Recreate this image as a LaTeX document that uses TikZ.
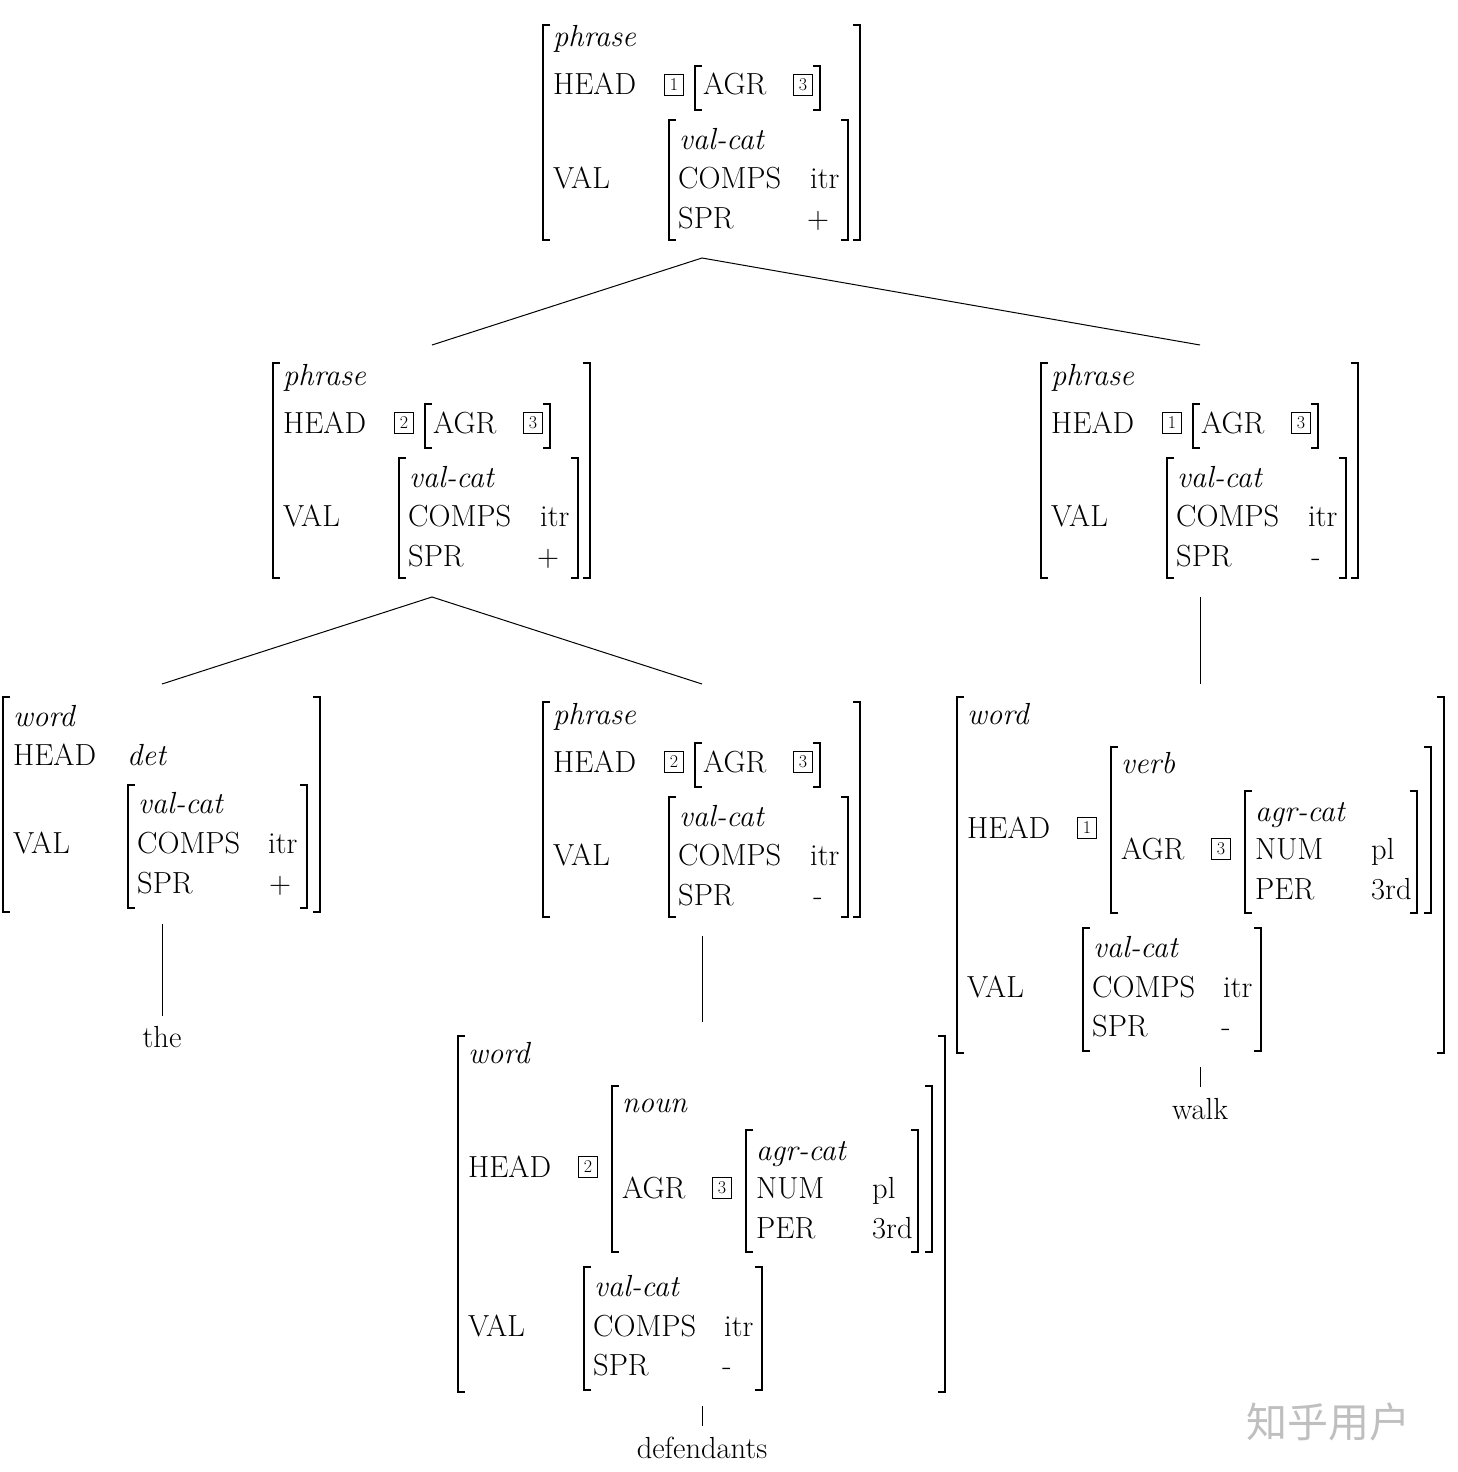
\documentclass[tikz,border=0pt]{standalone}
\usepackage{fontspec}
\newfontfamily\cjk{Noto Sans CJK SC}
\tikzset{
 t/.style={anchor=base west,inner sep=0pt,font=\fontsize{30.5}{34}\selectfont},
 tc/.style={anchor=base,inner sep=0pt,font=\fontsize{30.5}{34}\selectfont},
 tag/.style={draw,line width=0.7pt,inner sep=1.5pt,minimum width=19pt,minimum height=21pt,font=\fontsize{18}{20}\selectfont},
 brk/.style={line width=1.5pt},
 edge/.style={line width=1pt}
}
\newcommand\LBk[3]{\draw[brk] (#1+7,#2)--(#1,#2)--(#1,#3)--(#1+7,#3);}
\newcommand\RBk[3]{\draw[brk] (#1-7,#2)--(#1,#2)--(#1,#3)--(#1-7,#3);}
\newcommand\phr[4]{%
\begin{scope}[shift={(#1,#2)}]
\LBk{543}{25}{240}\RBk{860}{25}{240}
\node[t] at (553,47){\textit{phrase}};
\node[t] at (553,95){HEAD}; \node[tag] at (674,85){#3};
\LBk{695}{66}{110}\node[t] at (703,95){AGR};\node[tag] at (803,85){3};\RBk{820}{66}{110}
\node[t] at (553,188){VAL};
\LBk{669}{120}{240}\RBk{848}{120}{240}
\node[t] at (679,149){\textit{val-cat}};
\node[t] at (678,188){COMPS};\node[t] at (810,188){itr};
\node[t] at (678,228){SPR};\node[tc] at (818,228){#4};
\end{scope}}
\newcommand\wrd[4]{%
\begin{scope}[shift={(#1,#2)}]
\LBk{458}{1036}{1392}\RBk{945}{1036}{1392}
\node[t] at (468,1063){\textit{word}};
\node[t] at (468,1177){HEAD};\node[tag] at (588,1167){#4};
\LBk{612}{1086}{1252}\RBk{932}{1086}{1252}
\node[t] at (622,1112){\textit{#3}};
\node[t] at (622,1198){AGR};\node[tag] at (722,1188){3};
\LBk{746}{1130}{1252}\RBk{918}{1130}{1252}
\node[t] at (756,1160){\textit{agr-cat}};
\node[t] at (756,1198){NUM};\node[t] at (872,1198){pl};
\node[t] at (756,1238){PER};\node[t] at (872,1238){3rd};
\node[t] at (468,1336){VAL};
\LBk{584}{1267}{1390}\RBk{762}{1267}{1390}
\node[t] at (594,1296){\textit{val-cat}};
\node[t] at (593,1336){COMPS};\node[t] at (724,1336){itr};
\node[t] at (593,1375){SPR};\node[tc] at (727,1375){-};
\end{scope}}
\begin{document}
\begin{tikzpicture}[x=1pt,y=-1pt]
\useasboundingbox (0,0) rectangle (1458,1472);
\phr{0}{0}{1}{+}
\phr{-270}{338}{2}{+}
\phr{498}{338}{1}{-}
\phr{0}{677}{2}{-}
\wrd{0}{0}{noun}{2}
\wrd{499}{-339}{verb}{1}
% the
\LBk{3}{697}{912}\RBk{320}{697}{912}
\node[t] at (13,726){\textit{word}};
\node[t] at (13,765){HEAD};\node[t] at (127,765){\textit{det}};
\node[t] at (13,853){VAL};
\LBk{128}{785}{908}\RBk{307}{785}{908}
\node[t] at (138,813){\textit{val-cat}};
\node[t] at (137,853){COMPS};\node[t] at (268,853){itr};
\node[t] at (137,893){SPR};\node[tc] at (280,893){+};
% tree
\coordinate (r) at (702,258);
\coordinate (l) at (432,345);
\coordinate (rr) at (1200,345);
\draw[edge] (l)--(r)--(rr);
\coordinate (lb) at (432,597);
\draw[edge] (162,684)--(lb)--(702,684);
\draw[edge] (162,924)--(162,1016);
\node[tc] (the) at (162,1047){the};
\draw[edge] (702,936)--(702,1022);
\draw[edge] (702,1406)--(702,1426);
\node[tc] (def) at (702,1458){defendants};
\draw[edge] (1200,597)--(1200,684);
\draw[edge] (1200,1067)--(1200,1087);
\node[tc] (walk) at (1200,1119){walk};
\node[anchor=base,text=black!25,font=\cjk\fontsize{41}{44}\selectfont] (wm) at (1328,1437){知乎用户};
\end{tikzpicture}
\end{document}
